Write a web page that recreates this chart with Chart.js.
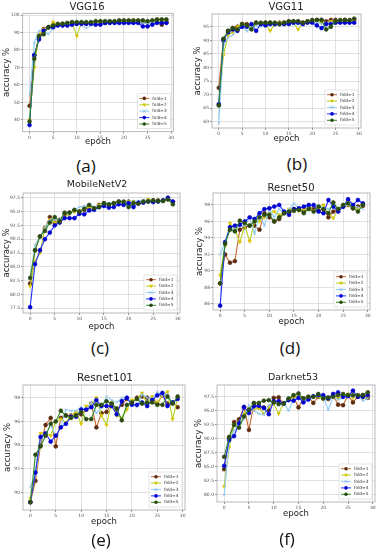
<!DOCTYPE html>
<html>
<head>
<meta charset="utf-8">
<script src="https://cdn.jsdelivr.net/npm/chart.js@4.4.1/dist/chart.umd.min.js"></script>
<style>
  body { margin: 0; background: #fff; }
  #fig { position: relative; width: 381px; height: 550px; overflow: hidden; background: #fff; }
  #fig canvas { position: absolute; }
  .lab { position: absolute; font-family: 'Open Sans', sans-serif; font-size: 17px; color: #111;
         transform: translate(-50%, -50%); white-space: nowrap; }
</style>
</head>
<body>
<div id="fig"></div>
<script>
// epochs (x values) and fold names
const epochs = [0,1,2,3,4,5,6,7,8,9,10,11,12,13,14,15,16,17,18,19,20,21,22,23,24,25,26,27,28,29];
const foldNames = ['fold=1', 'fold=2', 'fold=3', 'fold=4', 'fold=5'];
const xTicks = [0, 5, 10, 15, 20, 25, 30];

// (a) VGG16
const vgg16_f1 = [48,77,87,92,93,94,94.5,95,95,95.5,95,95.5,95,95.5,96,96,95.5,96,96,96.5,96,96.5,96.5,96,96,96,96.5,96.5,94.5,96];
const vgg16_f2 = [40,70,89,92,93,96,94.5,94.5,95,95.5,88,95.5,95,95.5,95.5,95.5,96,96,96,96,96.5,96.5,96.5,96.5,96.5,96,96.5,96.5,96.5,96.5];
const vgg16_f3 = [54,84,91,91,89,93,94,94,94.5,95,95,94,92.5,94,94.5,95,95.5,95,95.5,95.5,95.5,96,95.5,95.5,95.5,95,96,95.5,95.5,96];
const vgg16_f4 = [37,77,86,91,93,93,94,94,94,94.5,95,95,95,95,94.5,94.5,95.5,95.5,95.5,95.5,95.5,95.5,95.5,95.5,93.5,93.5,94.5,95.5,95.5,95.5];
const vgg16_f5 = [39,75,88,89,93,94,95,95,95.5,96,96,96,96,96,96.5,96.5,96.5,96.5,96.5,97,97,97,97,97,97,96.5,97,97.5,97.5,97.5];
const vgg16_yTicks = [40, 50, 60, 70, 80, 90, 100];

// (b) VGG11
const vgg11_f1 = [72.5,90.5,93.5,94.5,95,96,96,95.5,96.5,96,96.5,96.5,96,96.5,96.5,97,97,97,96.5,97,97,97.5,97.5,97,97.5,97.5,97,97.5,97,97.5];
const vgg11_f2 = [66,84.5,92,93,95,96,95.5,95,96,96,96,93.5,96,96.5,96,96.5,96.5,94,96.5,96.5,97,97,96.5,96,97,97,97,96.5,97,97];
const vgg11_f3 = [59.5,88,91,92,94,95,93.3,95,95.5,95,95.5,95.5,96,95.5,96,96,96,96,96,96.5,96.5,96.5,96,96.5,96.5,96.5,96.5,96.5,96.5,96.5];
const vgg11_f4 = [66.5,90,93,94,93.5,95,95,96,93.5,96,95.5,96,96,96,96,96,96.5,96.5,96,96.5,96.5,95.5,94.5,96,96,96.5,96.5,96.5,96.5,96.5];
const vgg11_f5 = [66,90.5,93.5,94.5,94,96,95.5,94,96.5,96.5,96.5,96.5,96.5,96,96.5,97,97,97,96.5,97,97.5,97.5,97.5,94,95,97,97.5,97.5,97.5,98];
const vgg11_yTicks = [60, 65, 70, 75, 80, 85, 90, 95];

// (c) MobileNetV2
const mnet_f1 = [82,88,90.5,92,94,93,93.5,94.5,94.8,95.2,95,95.3,95.8,95.6,96.2,96.5,96.2,96.5,96.8,96.5,96.8,96.7,96.5,96.8,97,97,97,97,97.2,96.8];
const mnet_f2 = [81.5,86,87.5,92,93.5,93,93,94,94.5,95,95,95.5,95.8,95.6,96.2,96.3,96.2,96.5,96.8,96.5,96.8,96.8,96.6,96.8,97.2,97,96.8,97,97.2,96.5];
const mnet_f3 = [83,89,90.5,92,93.5,93.5,93.5,94.8,94.5,95.3,95.8,96,96.3,95.8,96,96.5,96.5,96.6,96.8,96.7,96.7,96.8,96.9,97.1,97,96.9,97,97,97.3,96.8];
const mnet_f4 = [77.7,85.5,88,90,91.2,92.5,93,93.8,93.8,93.8,94.6,94.5,95.2,95.3,95.8,96,95.7,95.8,96.3,96.2,96.5,95.8,96.6,96.6,96.8,96.7,96.8,97,97.5,96.8];
const mnet_f5 = [83,88,90.5,91.5,93,94,93.2,94.8,94.8,95.3,95,95.5,96.2,95.6,95.8,96.5,96.3,96.5,96.8,96.8,95.8,96.5,96.4,96.8,96.8,97,96.9,96.9,97.2,96.3];
const mnet_yTicks = [77.5, 80, 82.5, 85, 87.5, 90, 92.5, 95, 97.5];

// (d) Resnet50
const r50_f1 = [88.5,92,91,91.2,95,95.3,95.5,95.5,95,97,96.5,96,96.3,97,97.2,97.5,97.5,97.3,97.8,97.5,97.3,97.5,96.5,97.2,97.5,97.8,98,97.6,97.8,97.9];
const r50_f2 = [89.5,93,95.8,95,93.5,95.5,93.6,96,96,96.5,97,97.2,96.8,97,97.5,97.5,97.3,97.5,97.5,97.3,97.8,98,97,96.4,97.5,98,98,98,97.5,98];
const r50_f3 = [92,93.5,95.2,95,95.5,95.5,96.5,94.5,96.8,95.5,97.5,96.5,97.5,97,97.5,98.2,97.6,97.7,97.8,97.9,98,97.6,97.5,98,97.3,97.8,98,98,97.7,97.5];
const r50_f4 = [85.8,93.5,95.3,95.5,95.6,96,96.5,96.3,97,97.5,97.6,97.8,98,97.2,96.8,97.5,97.6,97.8,98,98,97.2,97,98.6,97.8,97.2,97.8,98.7,98,98.6,98.2];
const r50_f5 = [88.5,93.3,95,94.8,96.1,95.8,95.5,96,96.5,96.8,96.8,96,96.5,97,97.2,97.3,97.4,97,97.5,97.2,97.8,97.5,97,98.3,97.5,98,98.2,97.6,97.2,98];
const r50_yTicks = [86, 88, 90, 92, 94, 96, 98];

// (e) Resnet101
const r101_f1 = [89.2,91,94,95.7,96.3,93.9,96.3,96.5,96.5,96.6,96.6,97,97.5,95.5,96.7,96.8,97.5,97,97.4,97.9,97.6,98,98.1,98,97.9,97.5,98.2,97.5,97.6,97.2];
const r101_f2 = [89.5,91.7,95,95,94.8,96,96.2,95.9,96.5,96.8,95.8,97.3,97.4,98,96.5,95.7,97.6,96.5,96.3,97,97.8,97.9,98.4,97.5,98.1,97.6,98.2,98.5,96.2,98];
const r101_f3 = [90.5,91.5,94.5,94.9,95.7,94.8,95.5,97,96.9,96.9,97.2,97,97.6,96.7,97.2,98.1,97.8,97.6,98,98,97.5,97.2,98.3,98,97.9,98.5,98.2,98.3,97.5,97.9];
const r101_f4 = [89.2,91.7,94.7,95,94.3,94.8,95.5,95.8,96.4,96.4,97,97,97.2,97.8,97.3,97.3,97.3,96.6,97.7,98,97.4,97.4,97.6,97.3,97.8,98.2,98.4,97.3,97.6,97.9];
const r101_f5 = [89.2,93.2,93.9,94.8,95.8,96,96.9,96.5,96.3,96.5,96.8,96.2,96.2,97.4,97.4,97.7,97.5,97.1,96.1,97.4,97.6,97.9,97.5,97.6,97.6,97.4,97.4,98.1,97.5,98.1];
const r101_yTicks = [90, 92, 94, 96, 98];

// (f) Darknet53
const dn53_f1 = [84.6,90.3,93,93.5,95.6,91.6,96.3,95.6,95.6,95.1,97.3,97.4,96.3,97,97.5,95.6,97.2,97.5,96.4,97.5,97.2,97.1,97.8,96.1,96,97.8,96.5,97.5,97.8,97.3];
const dn53_f2 = [81.5,88.5,92.5,93,94.5,95.5,95.2,95.5,94.5,95.7,96.3,94.5,96.2,97,97.2,98,97,97.3,97.5,97.5,97.2,97,98,97.2,97.5,98,97.3,97.8,97.2,97.5];
const dn53_f3 = [80,89.5,91.5,92.5,93.5,96,95,94.5,94.3,96,96.5,96,96.5,95,97,97.5,96.8,97,97.5,97.7,97.6,95.2,97.5,97,97.3,97.5,97.5,97.8,96.8,97.2];
const dn53_f4 = [85.2,89.8,90.5,92.8,95.7,94.6,95.8,95.9,95.5,94.4,96.7,96.7,96.3,96.9,96.8,97.3,96.5,97,97.6,97.8,97.8,97.2,98,98.3,97.5,97.6,98.6,97.5,97.5,97.8];
const dn53_f5 = [86.8,90.3,92.5,92,94,95.2,96.4,96.4,96.8,96.9,96.5,96.2,96.3,97.2,97.8,98.1,97.2,97.5,97.5,98,97.2,97.4,97.5,97.8,98,97.8,97.8,97.8,97.8,98.3];
const dn53_yTicks = [80, 82.5, 85, 87.5, 90, 92.5, 95, 97.5];

// fold styles
const lineColors = ['#c8692e', '#b5cf1f', '#8ccff5', '#1f2fff', '#2f8a2a'];
const markColors = ['#5b2c0f', '#dcc300', '#9cb7e6', '#0000d0', '#2c4a12'];
const markStyles = ['circle', 'triangle', 'crossRot', 'circle', 'circle'];

// panel layout (page pixels)
const panels = [
  { title: 'VGG16', sub: '(a)', series: [vgg16_f1, vgg16_f2, vgg16_f3, vgg16_f4, vgg16_f5], yTicks: vgg16_yTicks, dec: 0,
    yMin: 33.2, yMax: 101, canvas: { x: 0, y: 1, w: 183, h: 147 }, plot: { l: 22.7, t: 13.3, r: 173.3, b: 131.7 },
    tx: 87, ty: 7.3, ts: 10, sx: 86, sy: 165 },
  { title: 'VGG11', sub: '(b)', series: [vgg11_f1, vgg11_f2, vgg11_f3, vgg11_f4, vgg11_f5], yTicks: vgg11_yTicks, dec: 0,
    yMin: 57.7, yMax: 99.7, canvas: { x: 191, y: 1, w: 179, h: 144 }, plot: { l: 212, t: 14, r: 361, b: 128 },
    tx: 286, ty: 7.3, ts: 10, sx: 297, sy: 163 },
  { title: 'MobileNetV2', sub: '(c)', series: [mnet_f1, mnet_f2, mnet_f3, mnet_f4, mnet_f5], yTicks: mnet_yTicks, dec: 1,
    yMin: 76.65, yMax: 98.35, canvas: { x: 0, y: 179, w: 189, h: 154 }, plot: { l: 23, t: 193, r: 180, b: 313 },
    tx: 97, ty: 185, ts: 9.5, sx: 100, sy: 347 },
  { title: 'Resnet50', sub: '(d)', series: [r50_f1, r50_f2, r50_f3, r50_f4, r50_f5], yTicks: r50_yTicks, dec: 0,
    yMin: 85.27, yMax: 99.45, canvas: { x: 193, y: 182, w: 186, h: 146 }, plot: { l: 213, t: 193, r: 370, b: 310 },
    tx: 291, ty: 188, ts: 10, sx: 290, sy: 347 },
  { title: 'Resnet101', sub: '(e)', series: [r101_f1, r101_f2, r101_f3, r101_f4, r101_f5], yTicks: r101_yTicks, dec: 0,
    yMin: 88.54, yMax: 99.07, canvas: { x: 1, y: 372, w: 192, h: 156 }, plot: { l: 23, t: 385, r: 185, b: 510 },
    tx: 105, ty: 378, ts: 10.5, sx: 101, sy: 539 },
  { title: 'Darknet53', sub: '(f)', series: [dn53_f1, dn53_f2, dn53_f3, dn53_f4, dn53_f5], yTicks: dn53_yTicks, dec: 1,
    yMin: 78.75, yMax: 99.6, canvas: { x: 192, y: 372, w: 189, h: 148 }, plot: { l: 217, t: 385, r: 375, b: 502 },
    tx: 293, ty: 378, ts: 9.5, sx: 287, sy: 538 }
];

function drawMarker(ctx, style, x, y, r, color, rot) {
  ctx.save();
  ctx.translate(x, y);
  ctx.rotate((rot || 0) * Math.PI / 180);
  ctx.fillStyle = color; ctx.strokeStyle = color; ctx.lineWidth = 0.8;
  ctx.beginPath();
  if (style === 'triangle') {
    ctx.moveTo(0, -r * 1.2); ctx.lineTo(r * 1.1, r * 0.7); ctx.lineTo(-r * 1.1, r * 0.7); ctx.closePath(); ctx.fill();
  } else if (style === 'crossRot') {
    ctx.moveTo(-r, -r); ctx.lineTo(r, r); ctx.moveTo(r, -r); ctx.lineTo(-r, r); ctx.stroke();
  } else {
    ctx.arc(0, 0, r, 0, Math.PI * 2); ctx.fill();
  }
  ctx.restore();
}

// frame around plot, inset legend, title
const frameLegend = {
  id: 'frameLegend',
  afterDraw(chart, args, opts) {
    const ctx = chart.ctx, a = chart.chartArea;
    ctx.save();
    ctx.strokeStyle = '#a8a8a8'; ctx.lineWidth = 0.8;
    ctx.strokeRect(a.left, a.top, a.right - a.left, a.bottom - a.top);

    const dsets = chart.data.datasets;
    const rowH = 6.4, w = 33, h = rowH * dsets.length + 3;
    const x0 = a.right - 3 - w, y0 = a.bottom - 3 - h;
    ctx.fillStyle = 'rgba(255,255,255,0.85)'; ctx.strokeStyle = '#d4d4d4'; ctx.lineWidth = 0.6;
    ctx.fillRect(x0, y0, w, h); ctx.strokeRect(x0, y0, w, h);
    ctx.font = '4.3px "DejaVu Sans"'; ctx.textAlign = 'left'; ctx.textBaseline = 'middle';
    dsets.forEach((ds, i) => {
      const y = y0 + 1.5 + rowH * (i + 0.5);
      ctx.strokeStyle = ds.borderColor; ctx.lineWidth = 1;
      ctx.beginPath(); ctx.moveTo(x0 + 2, y); ctx.lineTo(x0 + 12, y); ctx.stroke();
      drawMarker(ctx, ds.pointStyle, x0 + 7, y, 1.8, ds.pointBackgroundColor, ds.pointRotation);
      ctx.fillStyle = '#333';
      ctx.fillText(ds.label, x0 + 15, y);
    });

    ctx.fillStyle = '#222'; ctx.textAlign = 'center'; ctx.textBaseline = 'middle';
    ctx.font = opts.ts + 'px "DejaVu Sans"';
    ctx.fillText(opts.title, opts.tx, opts.ty);
    ctx.restore();
  }
};

const fig = document.getElementById('fig');
const tickFont = { family: 'DejaVu Sans', size: 4.5 };
const axisFont = { family: 'DejaVu Sans', size: 8.5, lineHeight: 1.1 };

panels.forEach(p => {
  const cv = document.createElement('canvas');
  cv.width = p.canvas.w; cv.height = p.canvas.h;
  cv.style.left = p.canvas.x + 'px'; cv.style.top = p.canvas.y + 'px';
  cv.style.width = p.canvas.w + 'px'; cv.style.height = p.canvas.h + 'px';
  fig.appendChild(cv);

  const lab = document.createElement('div');
  lab.className = 'lab'; lab.textContent = p.sub;
  lab.style.left = p.sx + 'px'; lab.style.top = p.sy + 'px';
  fig.appendChild(lab);

  const datasets = p.series.map((vals, k) => ({
    label: foldNames[k],
    data: vals.map((v, i) => ({ x: epochs[i], y: v })),
    borderColor: lineColors[k],
    borderWidth: 1.1,
    pointStyle: markStyles[k],
    pointRotation: k === 1 ? 180 : 0,
    pointRadius: 1.9,
    pointBackgroundColor: markColors[k],
    pointBorderColor: markColors[k],
    pointBorderWidth: 0.7,
    tension: 0,
    fill: false,
    order: 4 - k
  }));

  new Chart(cv, {
    type: 'line',
    data: { datasets },
    options: {
      responsive: false,
      animation: false,
      devicePixelRatio: 1,
      layout: { padding: { left: 0, top: p.plot.t - p.canvas.y, right: p.canvas.x + p.canvas.w - p.plot.r, bottom: 0 } },
      plugins: {
        legend: { display: false },
        tooltip: { enabled: false },
        title: { display: false },
        frameLegend: { title: p.title, tx: p.tx - p.canvas.x, ty: p.ty - p.canvas.y, ts: p.ts }
      },
      scales: {
        x: {
          type: 'linear', min: -1.45, max: 30.45,
          afterBuildTicks: s => { s.ticks = xTicks.map(v => ({ value: v })); },
          afterFit: s => { s.height = p.canvas.y + p.canvas.h - p.plot.b; },
          ticks: { font: tickFont, color: '#555', padding: 1, maxRotation: 0, autoSkip: false },
          grid: { color: '#d9d9d9', lineWidth: 0.8, tickLength: 2, tickColor: '#777' },
          border: { display: false },
          title: { display: true, text: 'epoch', color: '#222', font: axisFont, padding: { top: 0, bottom: 1.3 } }
        },
        y: {
          min: p.yMin, max: p.yMax,
          afterBuildTicks: s => { s.ticks = p.yTicks.map(v => ({ value: v })); },
          afterFit: s => { s.width = p.plot.l - p.canvas.x; },
          ticks: { font: tickFont, color: '#555', padding: 1, autoSkip: false,
                   callback: v => Number(v).toFixed(p.dec) },
          grid: { color: '#d9d9d9', lineWidth: 0.8, tickLength: 2, tickColor: '#777' },
          border: { display: false },
          title: { display: true, text: 'accuracy %', color: '#222', font: axisFont, padding: { top: 2, bottom: 0 } }
        }
      }
    },
    plugins: [frameLegend]
  });
});
</script>
</body>
</html>
